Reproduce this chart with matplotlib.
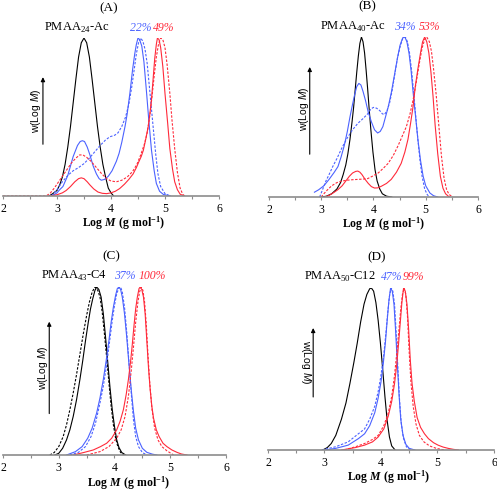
import matplotlib
matplotlib.use('Agg')
import matplotlib.pyplot as plt
from matplotlib.ticker import MultipleLocator

plt.rcParams['font.family'] = 'Liberation Serif'
plt.rcParams['mathtext.fontset'] = 'custom'
plt.rcParams['mathtext.rm'] = 'Liberation Serif'
plt.rcParams['mathtext.bf'] = 'Liberation Serif:bold'
plt.rcParams['mathtext.bfit'] = 'Liberation Serif:italic:bold'
plt.rcParams['mathtext.it'] = 'Liberation Sans:italic'

BLUE = '#4b62ff'
RED = '#ff2a3a'
DASH = (0, (2.2, 1.4))

# ---- panel A : PMAA24-Ac ----
a_black_x = [2.85, 2.9, 3.0, 3.05, 3.1, 3.15, 3.2, 3.25, 3.3, 3.35, 3.4, 3.45, 3.5, 3.55, 3.6, 3.65, 3.7, 3.75,
             3.8, 3.85, 3.9, 3.95, 4.0, 4.05]
a_black_y = [0, 0.01, 0.035, 0.07, 0.12, 0.2, 0.31, 0.44, 0.59, 0.74, 0.88, 0.97, 1.0, 0.97, 0.88, 0.74, 0.59, 0.44,
             0.31, 0.2, 0.12, 0.05, 0.02, 0]
a_blue_x = [2.87, 2.95, 3.0, 3.05, 3.11, 3.2, 3.3, 3.38, 3.43, 3.47, 3.51, 3.56, 3.61, 3.67, 3.73, 3.78, 3.82, 3.88,
            3.95, 4.02, 4.1, 4.15, 4.2, 4.26, 4.3, 4.35, 4.4, 4.44, 4.47, 4.5, 4.53, 4.57, 4.61, 4.66, 4.7, 4.75,
            4.8, 4.84, 4.9, 4.97, 5.1]
a_blue_y = [0, 0.01, 0.02, 0.04, 0.06, 0.13, 0.25, 0.32, 0.345, 0.35, 0.345, 0.31, 0.26, 0.19, 0.14, 0.11, 0.1,
            0.105, 0.125, 0.16, 0.22, 0.27, 0.34, 0.44, 0.52, 0.65, 0.8, 0.9, 0.96, 1.0, 0.99, 0.95, 0.85, 0.65,
            0.48, 0.29, 0.16, 0.08, 0.03, 0.01, 0]
a_blued_x = [2.9, 2.95, 3.0, 3.1, 3.2, 3.3, 3.4, 3.5, 3.6, 3.7, 3.8, 3.9, 3.98, 4.07, 4.13, 4.2, 4.27, 4.33, 4.38,
             4.43, 4.47, 4.51, 4.55, 4.59, 4.63, 4.67, 4.72, 4.78, 4.83, 4.87, 4.92, 5.0, 5.1]
a_blued_y = [0, 0.02, 0.04, 0.09, 0.13, 0.16, 0.18, 0.205, 0.24, 0.28, 0.32, 0.355, 0.375, 0.385, 0.4, 0.44, 0.5,
             0.58, 0.68, 0.8, 0.9, 0.97, 1.0, 0.98, 0.93, 0.84, 0.66, 0.44, 0.26, 0.14, 0.06, 0.015, 0]
a_red_x = [2.87, 3.0, 3.1, 3.17, 3.25, 3.33, 3.4, 3.45, 3.5, 3.56, 3.61, 3.68, 3.76, 3.84, 3.92, 4.0, 4.08, 4.16,
           4.25, 4.33, 4.41, 4.47, 4.52, 4.56, 4.6, 4.65, 4.69, 4.72, 4.75, 4.78, 4.81, 4.84, 4.86, 4.89, 4.92,
           4.96, 5.0, 5.05, 5.09, 5.14, 5.18, 5.23, 5.28, 5.35]
a_red_y = [0, 0.008, 0.02, 0.035, 0.06, 0.09, 0.11, 0.115, 0.11, 0.09, 0.07, 0.045, 0.025, 0.017, 0.015, 0.02,
           0.03, 0.047, 0.075, 0.105, 0.14, 0.18, 0.22, 0.25, 0.29, 0.37, 0.44, 0.52, 0.61, 0.74, 0.87, 0.96, 1.0,
           0.99, 0.94, 0.82, 0.65, 0.46, 0.3, 0.17, 0.09, 0.04, 0.012, 0]
a_redd_x = [2.0, 2.8, 2.88, 2.95, 3.05, 3.17, 3.27, 3.35, 3.42, 3.48, 3.55, 3.63, 3.73, 3.83, 3.92, 4.0, 4.1, 4.2,
            4.3, 4.4, 4.48, 4.55, 4.62, 4.67, 4.72, 4.76, 4.8, 4.84, 4.88, 4.92, 4.96, 5.0, 5.04, 5.09, 5.13, 5.18,
            5.23, 5.28, 5.33, 5.37]
a_redd_y = [0, 0, 0.02, 0.05, 0.1, 0.16, 0.21, 0.24, 0.26, 0.26, 0.245, 0.22, 0.18, 0.14, 0.11, 0.095, 0.09, 0.1,
            0.12, 0.155, 0.2, 0.26, 0.33, 0.4, 0.51, 0.63, 0.76, 0.88, 0.96, 1.0, 0.99, 0.94, 0.83, 0.65, 0.48,
            0.3, 0.15, 0.05, 0.01, 0]

# ---- panel B : PMAA40-Ac ----
b_black_x = [3.0, 3.1, 3.2, 3.3, 3.37, 3.42, 3.47, 3.51, 3.55, 3.59, 3.62, 3.65, 3.68, 3.71, 3.74, 3.77, 3.8,
             3.83, 3.86, 3.89, 3.92, 3.95, 3.99, 4.03, 4.07, 4.12, 4.17, 4.25, 4.35]
b_black_y = [0, 0.005, 0.02, 0.05, 0.09, 0.14, 0.2, 0.27, 0.36, 0.47, 0.56, 0.67, 0.78, 0.88, 0.96, 1.0, 0.97,
             0.9, 0.79, 0.67, 0.54, 0.42, 0.28, 0.17, 0.1, 0.05, 0.02, 0.005, 0]
b_blue_x = [2.87, 2.95, 3.05, 3.15, 3.25, 3.32, 3.38, 3.44, 3.5, 3.55, 3.6, 3.64, 3.68, 3.72, 3.76, 3.8, 3.85,
            3.9, 3.96, 4.02, 4.08, 4.13, 4.18, 4.23, 4.28, 4.34, 4.4, 4.46, 4.51, 4.56, 4.6, 4.64, 4.68, 4.72,
            4.76, 4.81, 4.85, 4.9, 4.95, 5.0, 5.08, 5.15, 5.23]
b_blue_y = [0.03, 0.045, 0.07, 0.11, 0.155, 0.19, 0.25, 0.32, 0.41, 0.5, 0.58, 0.64, 0.69, 0.71, 0.7, 0.66, 0.6,
            0.53, 0.47, 0.42, 0.4, 0.41, 0.44, 0.5, 0.56, 0.65, 0.76, 0.87, 0.95, 0.995, 1.0, 0.97, 0.9, 0.79,
            0.65, 0.49, 0.36, 0.23, 0.13, 0.07, 0.025, 0.008, 0]
b_blued_x = [2.97, 3.03, 3.09, 3.15, 3.22, 3.3, 3.4, 3.5, 3.6, 3.7, 3.8, 3.89, 3.95, 4.0, 4.06, 4.12, 4.17, 4.21,
             4.26, 4.31, 4.36, 4.41, 4.46, 4.51, 4.56, 4.61, 4.65, 4.69, 4.73, 4.77, 4.81, 4.85, 4.89, 4.93, 4.98,
             5.03, 5.07]
b_blued_y = [0, 0.05, 0.1, 0.14, 0.19, 0.24, 0.31, 0.37, 0.42, 0.46, 0.49, 0.52, 0.55, 0.56, 0.555, 0.54, 0.52,
             0.515, 0.54, 0.59, 0.67, 0.77, 0.87, 0.94, 0.99, 1.0, 0.97, 0.9, 0.79, 0.65, 0.5, 0.36, 0.23, 0.13,
             0.05, 0.015, 0]
b_red_x = [3.07, 3.15, 3.25, 3.32, 3.4, 3.47, 3.54, 3.6, 3.66, 3.7, 3.74, 3.78, 3.84, 3.9, 3.96, 4.02, 4.08, 4.15,
           4.25, 4.34, 4.44, 4.53, 4.6, 4.66, 4.71, 4.76, 4.8, 4.85, 4.9, 4.94, 4.98, 5.02, 5.06, 5.1, 5.14, 5.18,
           5.23, 5.28, 5.33, 5.38, 5.45]
b_red_y = [0, 0.01, 0.03, 0.046, 0.07, 0.1, 0.13, 0.15, 0.16, 0.162, 0.155, 0.14, 0.11, 0.085, 0.065, 0.056,
           0.057, 0.067, 0.085, 0.11, 0.155, 0.21, 0.28, 0.36, 0.46, 0.57, 0.69, 0.8, 0.9, 0.97, 1.0, 0.97, 0.9,
           0.78, 0.63, 0.45, 0.27, 0.13, 0.055, 0.02, 0]
b_redd_x = [3.0, 3.05, 3.12, 3.2, 3.3, 3.4, 3.5, 3.6, 3.7, 3.8, 3.89, 3.98, 4.09, 4.19, 4.28, 4.38, 4.47, 4.55,
            4.63, 4.7, 4.76, 4.82, 4.88, 4.93, 4.98, 5.02, 5.07, 5.11, 5.15, 5.2, 5.25, 5.3, 5.35, 5.4, 5.45, 5.52]
b_redd_y = [0, 0.02, 0.045, 0.07, 0.09, 0.1, 0.105, 0.108, 0.11, 0.112, 0.115, 0.13, 0.15, 0.18, 0.21, 0.26, 0.32,
            0.38, 0.44, 0.52, 0.61, 0.72, 0.84, 0.93, 0.985, 1.0, 0.97, 0.91, 0.8, 0.64, 0.45, 0.26, 0.12, 0.045,
            0.015, 0]

# ---- panel C : PMAA43-C4 ----
c_black_x = [2.93, 3.0, 3.07, 3.14, 3.2, 3.26, 3.32, 3.38, 3.43, 3.48, 3.53, 3.57, 3.61, 3.65, 3.68, 3.72, 3.76,
             3.8, 3.84, 3.88, 3.92, 3.96, 4.0, 4.04, 4.08, 4.13, 4.2]
c_black_y = [0, 0.01, 0.04, 0.09, 0.15, 0.23, 0.33, 0.45, 0.56, 0.68, 0.79, 0.87, 0.93, 0.98, 1.0, 0.985, 0.94,
             0.84, 0.7, 0.55, 0.4, 0.27, 0.17, 0.09, 0.045, 0.015, 0]
c_blackd_x = [2.84, 2.92, 3.0, 3.08, 3.14, 3.2, 3.26, 3.32, 3.38, 3.44, 3.5, 3.55, 3.6, 3.65, 3.7, 3.74, 3.78,
              3.82, 3.86, 3.9, 3.94, 3.98, 4.02, 4.06, 4.11, 4.17]
c_blackd_y = [0, 0.015, 0.05, 0.11, 0.18, 0.27, 0.37, 0.48, 0.6, 0.72, 0.83, 0.91, 0.97, 1.0, 0.98, 0.94, 0.85,
              0.72, 0.58, 0.43, 0.29, 0.18, 0.1, 0.05, 0.015, 0]
c_blue_x = [3.14, 3.3, 3.42, 3.52, 3.6, 3.68, 3.74, 3.8, 3.85, 3.9, 3.94, 3.98, 4.02, 4.05, 4.08, 4.11, 4.14, 4.18,
            4.22, 4.26, 4.3, 4.34, 4.38, 4.43, 4.5, 4.58, 4.68, 4.76]
c_blue_y = [0, 0.02, 0.05, 0.1, 0.16, 0.25, 0.34, 0.45, 0.56, 0.68, 0.79, 0.88, 0.95, 0.99, 1.0, 0.985, 0.94,
            0.84, 0.7, 0.54, 0.39, 0.26, 0.16, 0.09, 0.04, 0.016, 0.005, 0]
c_blued_x = [3.2, 3.35, 3.48, 3.58, 3.66, 3.74, 3.8, 3.86, 3.91, 3.96, 4.0, 4.04, 4.08, 4.11, 4.14, 4.18, 4.22,
             4.26, 4.3, 4.34, 4.38, 4.43, 4.5, 4.58]
c_blued_y = [0, 0.015, 0.05, 0.11, 0.19, 0.31, 0.41, 0.54, 0.67, 0.8, 0.89, 0.96, 0.995, 1.0, 0.97, 0.88, 0.73,
             0.55, 0.37, 0.21, 0.11, 0.05, 0.015, 0]
c_red_x = [3.26, 3.45, 3.62, 3.75, 3.86, 3.95, 4.04, 4.1, 4.16, 4.21, 4.25, 4.29, 4.32, 4.35, 4.38, 4.41, 4.44,
           4.46, 4.49, 4.52, 4.55, 4.58, 4.61, 4.64, 4.67, 4.7, 4.75, 4.8, 4.87, 4.94, 5.03, 5.12, 5.2, 5.3]
c_red_y = [0, 0.015, 0.03, 0.05, 0.07, 0.1, 0.15, 0.2, 0.27, 0.36, 0.45, 0.56, 0.66, 0.77, 0.87, 0.94, 0.99, 1.0,
           0.985, 0.94, 0.84, 0.68, 0.52, 0.39, 0.29, 0.22, 0.15, 0.11, 0.07, 0.05, 0.03, 0.016, 0.006, 0]
c_redd_x = [3.5, 3.74, 3.9, 4.04, 4.12, 4.19, 4.25, 4.3, 4.34, 4.38, 4.42, 4.45, 4.48, 4.51, 4.54, 4.57, 4.6,
            4.63, 4.67, 4.72, 4.78, 4.85, 4.94, 5.06]
c_redd_y = [0, 0.02, 0.05, 0.1, 0.15, 0.23, 0.35, 0.5, 0.64, 0.79, 0.91, 0.97, 1.0, 0.98, 0.91, 0.78, 0.6, 0.44,
            0.28, 0.16, 0.09, 0.05, 0.025, 0]

# ---- panel D : PMAA50-C12 ----
d_black_x = [2.97, 3.05, 3.12, 3.2, 3.3, 3.38, 3.45, 3.52, 3.58, 3.64, 3.7, 3.75, 3.8, 3.83, 3.87, 3.91, 3.95,
             3.99, 4.03, 4.07, 4.11, 4.15, 4.19, 4.25]
d_black_y = [0, 0.015, 0.04, 0.09, 0.19, 0.29, 0.41, 0.54, 0.66, 0.79, 0.9, 0.96, 0.995, 1.0, 0.98, 0.91, 0.8,
             0.66, 0.5, 0.33, 0.18, 0.08, 0.025, 0]
d_blue_x = [3.0, 3.2, 3.42, 3.6, 3.71, 3.8, 3.89, 3.95, 4.0, 4.04, 4.08, 4.11, 4.14, 4.17, 4.2, 4.23, 4.26, 4.29,
            4.32, 4.35, 4.39, 4.44, 4.5, 4.6]
d_blue_y = [0, 0.01, 0.03, 0.07, 0.1, 0.15, 0.23, 0.32, 0.42, 0.53, 0.67, 0.8, 0.92, 1.0, 0.98, 0.9, 0.73, 0.53,
            0.34, 0.19, 0.09, 0.035, 0.01, 0]
d_blued_x = [2.95, 3.2, 3.42, 3.6, 3.71, 3.8, 3.89, 3.95, 4.0, 4.05, 4.09, 4.12, 4.15, 4.18, 4.21, 4.24, 4.27,
             4.3, 4.33, 4.36, 4.4, 4.45, 4.52]
d_blued_y = [0, 0.02, 0.05, 0.1, 0.13, 0.19, 0.27, 0.36, 0.46, 0.59, 0.73, 0.85, 0.95, 1.0, 0.98, 0.9, 0.72, 0.5,
             0.3, 0.16, 0.07, 0.02, 0]
d_red_x = [3.3, 3.55, 3.71, 3.85, 3.95, 4.05, 4.13, 4.19, 4.24, 4.28, 4.31, 4.34, 4.37, 4.4, 4.43, 4.46, 4.49,
           4.52, 4.55, 4.59, 4.64, 4.7, 4.77, 4.84, 4.93, 5.01, 5.1, 5.19, 5.28, 5.37]
d_red_y = [0, 0.015, 0.03, 0.05, 0.08, 0.13, 0.21, 0.3, 0.41, 0.53, 0.65, 0.78, 0.91, 1.0, 0.98, 0.9, 0.74, 0.55,
           0.41, 0.3, 0.2, 0.14, 0.1, 0.07, 0.045, 0.03, 0.018, 0.01, 0.004, 0]
d_redd_x = [3.35, 3.55, 3.71, 3.85, 3.95, 4.05, 4.13, 4.19, 4.24, 4.28, 4.32, 4.35, 4.38, 4.41, 4.44, 4.47, 4.5,
            4.53, 4.57, 4.62, 4.68, 4.76, 4.86, 4.98, 5.12]
d_redd_y = [0, 0.02, 0.04, 0.065, 0.09, 0.15, 0.23, 0.33, 0.46, 0.6, 0.75, 0.87, 0.96, 1.0, 0.96, 0.82, 0.6, 0.42,
            0.27, 0.16, 0.09, 0.05, 0.025, 0.01, 0]

panels = [
    dict(letter='(A)', rect=[0.006, 0.6016, 0.4346, 0.3211], name='PMAA$_{24}$-Ac', name_x=3.36,
         pcts=[('22%', 4.55, BLUE), ('49%', 4.97, RED)], title_x=3.96, title_y=1.19,
         curves=[(a_black_x, a_black_y, 'k', '-'), (a_blue_x, a_blue_y, BLUE, '-'),
                 (a_blued_x, a_blued_y, BLUE, DASH), (a_red_x, a_red_y, RED, '-'),
                 (a_redd_x, a_redd_y, RED, DASH)],
         ylab_x=2.62, ylab_y=0.54, arr_x=2.74, arr=(0.31, 0.77), rot=90, xl_x=4.24, xl_px=31),
    dict(letter='(B)', rect=[0.5412, 0.5996, 0.4205, 0.3252], name='PMAA$_{40}$-Ac', name_x=3.61,
         pcts=[('34%', 4.6, BLUE), ('53%', 5.08, RED)], title_x=3.88, title_y=1.19,
         curves=[(b_black_x, b_black_y, 'k', '-'), (b_blue_x, b_blue_y, BLUE, '-'),
                 (b_blued_x, b_blued_y, BLUE, DASH), (b_red_x, b_red_y, RED, '-'),
                 (b_redd_x, b_redd_y, RED, DASH)],
         ylab_x=2.67, ylab_y=0.55, arr_x=2.78, arr=(0.25, 0.83), rot=90, xl_x=4.19, xl_px=31),
    dict(letter='(C)', rect=[0.006, 0.0752, 0.4487, 0.3415], name='PMAA$_{43}$-C4', name_x=3.28,
         pcts=[('37%', 4.18, BLUE), ('100%', 4.67, RED)], title_x=3.95, title_y=1.18,
         curves=[(c_black_x, c_black_y, 'k', '-'), (c_blackd_x, c_blackd_y, 'k', DASH),
                 (c_blue_x, c_blue_y, BLUE, '-'), (c_blued_x, c_blued_y, BLUE, DASH),
                 (c_red_x, c_red_y, RED, '-'), (c_redd_x, c_redd_y, RED, DASH)],
         ylab_x=2.72, ylab_y=0.52, arr_x=2.83, arr=(0.23, 0.81), rot=90, xl_x=4.25, xl_px=32),
    dict(letter='(D)', rect=[0.5392, 0.0854, 0.4547, 0.3293], name='PMAA$_{50}$-C12', name_x=3.28,
         pcts=[('47%', 4.19, BLUE), ('99%', 4.58, RED)], title_x=3.92, title_y=1.19,
         curves=[(d_black_x, d_black_y, 'k', '-'), (d_blue_x, d_blue_y, BLUE, '-'),
                 (d_blued_x, d_blued_y, BLUE, DASH), (d_red_x, d_red_y, RED, '-'),
                 (d_redd_x, d_redd_y, RED, DASH)],
         ylab_x=2.67, ylab_y=0.54, arr_x=2.8, arr=(0.31, 0.77), rot=-90, xl_x=4.13, xl_px=31),
]

fig = plt.figure(figsize=(4.97, 4.92), dpi=100)

for p in panels:
    ax = fig.add_axes(p['rect'])
    for xs, ys, col, ls in p['curves']:
        ax.plot(xs, ys, color=col, linestyle=ls, lw=0.8)
    ax.set_xlim(2, 6)
    ax.set_ylim(0, 1)
    for s in ['left', 'right', 'top']:
        ax.spines[s].set_visible(False)
    ax.spines['bottom'].set_color('#8c8c8c')
    ax.spines['bottom'].set_linewidth(1.2)
    ax.set_yticks([])
    ax.xaxis.set_major_locator(MultipleLocator(1))
    ax.xaxis.set_minor_locator(MultipleLocator(0.5))
    ax.tick_params(axis='x', which='both', direction='out', length=2.2, width=0.8,
                   color='#8c8c8c', labelsize=8.5, pad=2.5)
    ax.patch.set_alpha(0)

    ax.text(p['title_x'], p['title_y'], p['letter'], ha='center', va='center', fontsize=9.5, clip_on=False)
    ax.text(p['name_x'], 1.065, p['name'], ha='center', va='center', fontsize=9, clip_on=False)
    for t, x, c in p['pcts']:
        ax.text(x, 1.065, t, ha='center', va='center', fontsize=8.5, color=c, style='italic', clip_on=False)

    ax.text(p['ylab_x'], p['ylab_y'], r'w(Log $\mathit{M}$)', rotation=p['rot'], ha='center', va='center',
            fontsize=7.5, family='Liberation Sans')
    ax.annotate('', xy=(p['arr_x'], p['arr'][1]), xytext=(p['arr_x'], p['arr'][0]),
                arrowprops=dict(arrowstyle='-|>', lw=0.8, color='black', mutation_scale=6))

    # x label, baseline placed a fixed number of pixels under the axis line
    ax.annotate(r'$\mathbf{Log}\ \mathbfit{M}\ \mathbf{(g\ mol^{-1})}$', xy=(p['xl_x'], 0),
                xycoords=('data', 'axes fraction'), xytext=(0, -p['xl_px'] * 0.72),
                textcoords='offset points', ha='center', va='baseline', fontsize=8.5)

fig.savefig('out.png', dpi=100)
